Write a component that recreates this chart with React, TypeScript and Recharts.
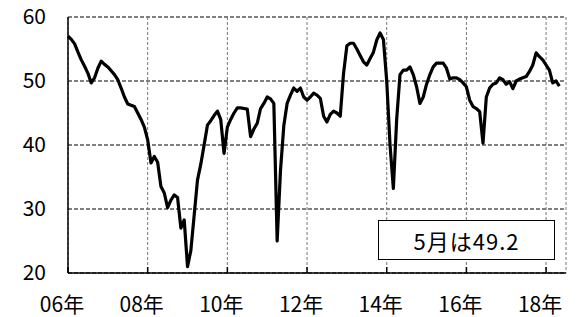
import { CartesianGrid, Line, LineChart, XAxis, YAxis } from 'recharts';

// monthly index, Jan 2006 .. May 2018
const VALUES = [
  57, 56.5, 55.8, 54.5, 53.3, 52.3, 51.2, 49.7, 50.5, 52, 53.1, 52.6,
  52.2, 51.6, 51, 50.2, 48.9, 47.5, 46.4, 46.2, 46, 45, 44, 42.8,
  40.8, 37.2, 38.2, 37.3, 33.5, 32.5, 30.2, 31.4, 32.2, 31.8, 27, 28.3,
  21, 23.5, 29, 34.5, 37, 40, 43.1, 43.8, 44.6, 45.3, 44, 38.7,
  42.8, 44, 45, 45.8, 45.8, 45.7, 45.6, 41.3, 42.5, 43.4, 45.7, 46.5,
  47.5, 47.2, 46.5, 25, 36, 43, 46.5, 47.8, 48.9, 48.4, 48.9, 47.5,
  47, 47.5, 48.1, 47.8, 47.3, 44.5, 43.6, 44.8, 45.3, 45, 44.5, 51.2,
  55.5, 55.9, 55.9, 55, 54, 53, 52.5, 53.5, 54.5, 56.4, 57.5, 56.5,
  50, 40, 33.2, 44, 51, 51.7, 51.7, 52.2, 51, 49.1, 46.5, 47.5,
  49.5, 51, 52.2, 52.8, 52.8, 52.8, 52, 50.3, 50.5, 50.5, 50.2, 49.7,
  49.1, 47, 46, 45.7, 45.2, 40.3, 47.5, 48.9, 49.5, 49.7, 50.5, 50.2,
  49.5, 49.9, 48.8, 50, 50.3, 50.5, 50.7, 51.5, 52.5, 54.4, 53.8, 53.3,
  52.5, 51.7, 49.7, 50, 49.2,
];

const X_TICKS = [0, 24, 48, 72, 96, 120, 144];
const X_LABELS = ['06年', '08年', '10年', '12年', '14年', '16年', '18年'];
const Y_TICKS = [20, 30, 40, 50, 60];
const NOTE = '5月は49.2';

const FONT = '"Noto Sans CJK JP", "Noto Sans", sans-serif';

export default function App() {
  const data = VALUES.map((v, i) => ({ m: i, v }));

  return (
    <div style={{ position: 'absolute', left: 0, top: 0, width: 579, height: 317, background: '#fff' }}>
      <LineChart width={579} height={317} data={data} margin={{ top: 17, right: 13, left: 0, bottom: 0 }}>
        <CartesianGrid horizontal vertical={false} stroke="#000" strokeDasharray="4 2" />
        <CartesianGrid horizontal={false} vertical stroke="#777" strokeDasharray="3 2" />
        <XAxis
          dataKey="m"
          type="number"
          domain={[0, 150]}
          ticks={X_TICKS}
          tickFormatter={(v: number) => X_LABELS[X_TICKS.indexOf(v)] ?? ''}
          height={44}
          tickSize={-6}
          tickMargin={30}
          axisLine={{ stroke: '#000', strokeWidth: 1.5 }}
          tickLine={{ stroke: '#000', strokeWidth: 1.5 }}
          tick={{ fill: '#000', fontSize: 21, fontFamily: FONT, dx: -6 }}
          interval={0}
        />
        <YAxis
          domain={[20, 60]}
          ticks={Y_TICKS}
          width={68}
          tickSize={0}
          tickMargin={22}
          tickLine={false}
          axisLine={{ stroke: '#000', strokeWidth: 1.5 }}
          tick={{ fill: '#000', fontSize: 21, fontFamily: FONT }}
          interval={0}
        />
        <Line
          dataKey="v"
          type="linear"
          stroke="#000"
          strokeWidth={3.2}
          strokeLinejoin="round"
          dot={false}
          isAnimationActive={false}
        />
      </LineChart>
      <div
        style={{
          position: 'absolute',
          left: 378,
          top: 220,
          width: 177,
          height: 40,
          boxSizing: 'border-box',
          border: '1.5px solid #000',
          background: '#fff',
          display: 'flex',
          alignItems: 'center',
          justifyContent: 'center',
          fontFamily: FONT,
          fontSize: 22,
          letterSpacing: 1,
          color: '#000',
        }}
      >
        {NOTE}
      </div>
    </div>
  );
}
